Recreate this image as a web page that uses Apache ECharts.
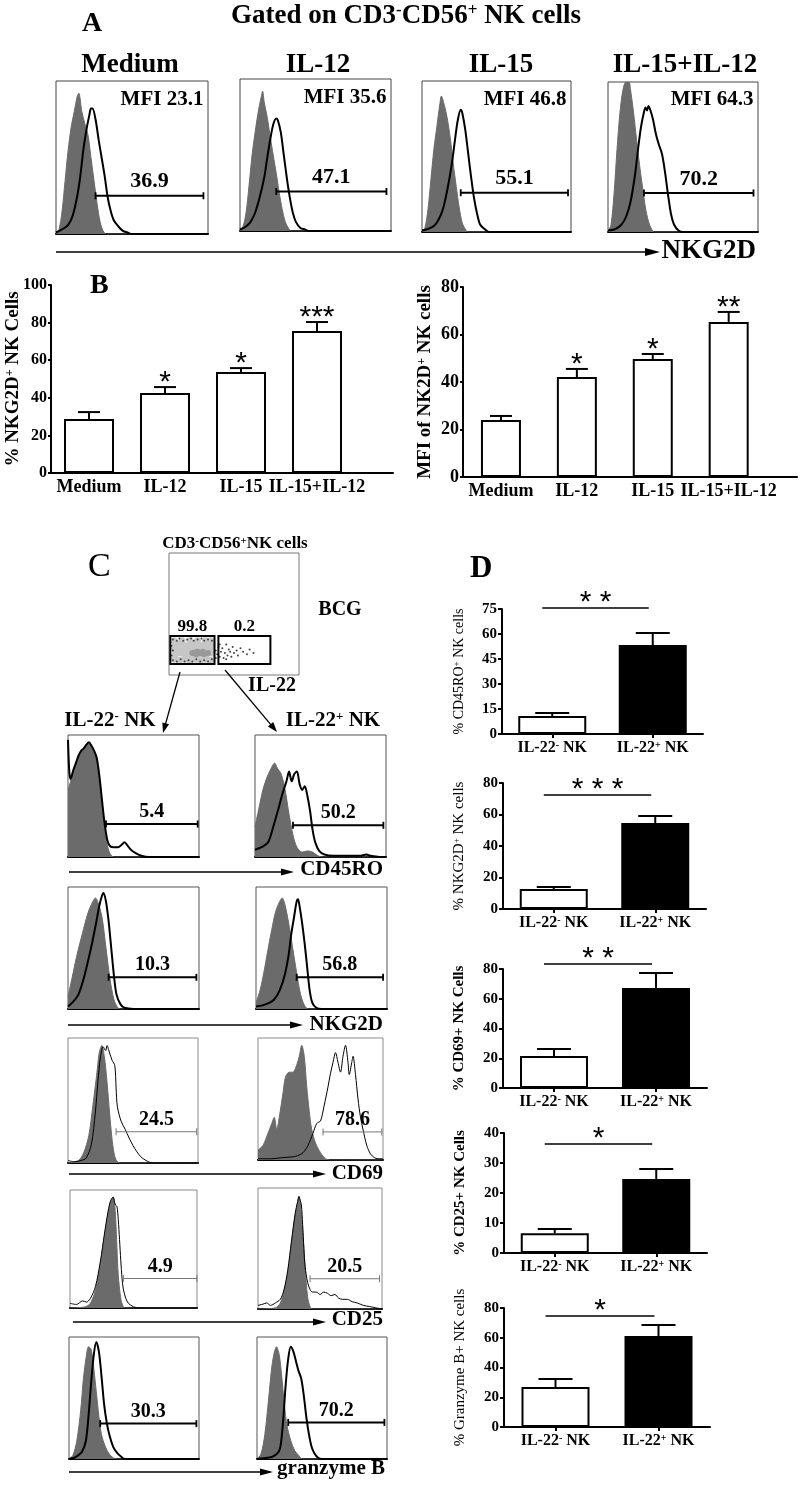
<!DOCTYPE html>
<html><head><meta charset="utf-8">
<script src="https://cdn.jsdelivr.net/npm/echarts@6/dist/echarts.min.js"></script>
<style>html,body{margin:0;padding:0;background:#fff}#c{width:800px;height:1485px}</style>
</head><body><div id="c"></div>
<script>
const SERIF = '"Liberation Serif","Times New Roman",serif';
const SANS = '"Liberation Sans",Arial,sans-serif';
const GRAY = '#6b6b6b';

// ---------------- Panel A data ----------------
const A_conditions = ['Medium', 'IL-12', 'IL-15', 'IL-15+IL-12'];
const A_mfi = ['MFI 23.1', 'MFI 35.6', 'MFI 46.8', 'MFI 64.3'];
const A_gatePct = ['36.9', '47.1', '55.1', '70.2'];
const A_gate = [[26, 97, 25], [24, 97, 26], [26, 98, 26], [24, 97, 26]];
const A_isotype = [
  [[0,0],[2,3],[4,15],[6,35],[8,55],[10,70],[12,80],[14,90],[15,92],[17,80],[19,72],[21,65],[23,50],[25,35],[27,20],[29,8],[31,2],[33,0],[100,0]],
  [[0,0],[2,3],[4,12],[6,30],[8,50],[10,65],[12,78],[14,88],[15,92],[16,85],[18,75],[20,62],[22,50],[24,38],[26,25],[28,14],[30,6],[32,2],[34,0],[100,0]],
  [[0,0],[2,3],[4,15],[6,35],[8,55],[10,70],[12,85],[13,90],[15,84],[17,75],[19,62],[21,45],[23,30],[25,16],[27,6],[29,2],[31,0],[100,0]],
  [[0,0],[2,5],[4,25],[6,55],[8,80],[10,95],[12,100],[14,100],[15,95],[17,80],[19,62],[21,45],[23,30],[25,16],[27,7],[29,2],[31,0],[100,0]]
];
const A_NKG2D = [
  [[0,1],[4,3],[8,6],[11,12],[14,25],[16,38],[18,55],[20,68],[22,78],[23,82],[24,82],[26,75],[28,62],[30,50],[32,38],[34,24],[36,15],[38,9],[41,5],[44,2],[47,1],[50,0],[100,0]],
  [[0,1],[4,3],[7,6],[10,12],[13,22],[16,35],[18,48],[20,60],[22,70],[24,74],[25,73],[27,65],[29,50],[31,35],[33,22],[35,12],[37,6],[40,2],[43,1],[46,0],[100,0]],
  [[0,1],[4,2],[8,4],[11,8],[14,15],[17,28],[20,45],[22,60],[24,74],[26,81],[27,79],[29,68],[31,52],[33,36],[35,22],[37,12],[39,5],[42,2],[45,0],[100,0]],
  [[0,1],[5,2],[9,5],[12,10],[15,20],[18,38],[20,55],[22,70],[24,80],[25,83],[26,81],[27,84],[28,82],[30,75],[32,65],[34,58],[36,52],[38,40],[40,25],[42,12],[44,5],[47,1],[50,0],[100,0]]
];

// ---------------- Panel B data ----------------
const B_categories = ['Medium', 'IL-12', 'IL-15', 'IL-15+IL-12'];
const B_pctNKG2D = [28.7, 42.6, 53.7, 75.5];
const B_pctNKG2D_err = [3.7, 3.1, 2.1, 4.8];
const B_pctNKG2D_sig = ['', '*', '*', '***'];
const B_mfiNKG2D = [24.0, 42.1, 49.7, 65.3];
const B_mfiNKG2D_err = [1.7, 3.4, 2.1, 4.2];
const B_mfiNKG2D_sig = ['', '*', '*', '**'];
const B_yNames = ['% NKG2D⁺ NK Cells', 'MFI of NK2D⁺ NK cells'];

// ---------------- Panel C data ----------------
const C_dotGates = [[1, 9, 35, 32], [38, 9, 78, 32]];
const C_dotGatePct = ['99.8', '0.2'];
const C_dotCloud = [[4,13],[8,12],[12,13],[16,12],[20,13],[24,12],[28,13],[32,12],
  [5,17],[9,18],[13,16],[17,17],[21,18],[25,16],[29,17],[33,18],
  [4,21],[8,22],[12,20],[16,21],[20,22],[24,21],[28,20],[32,22],
  [5,25],[9,26],[13,24],[17,25],[21,26],[25,24],[29,25],[33,26],
  [4,28],[10,28],[16,28],[22,28],[28,28],[32,28]];
const C_dotCore = [[18,18],[21,17],[24,18],[27,17],[30,18],[22,19],[26,19],[20,18.5]];
const C_dotEvents = [[3,29],[6,28],[8,30],[11,28],[14,29],[17,30],[19,28],[22,29],[25,30],[27,28],[30,29],[33,28],
  [3,12],[6,11],[9,13],[12,11],[15,12],[18,11],[21,13],[24,11],[27,12],[30,11],[33,13],[2,16],[3,20],[2,24],
  [36,20],[37,17],[38,23],[39,15],[40,19],[41,22],[42,14],[43,18],[44,25],[45,16],[46,21],[47,19],[48,15],
  [49,23],[50,18],[52,20],[53,16],[55,22],[57,19],[60,17],[62,21],[65,18],[39,25],[44,13],[36,14]];
const C_markers = ['CD45RO', 'NKG2D', 'CD69', 'CD25', 'granzyme B'];
const C_popNames = ['IL-22⁻ NK', 'IL-22⁺ NK'];
const C_gatePctNeg = ['5.4', '10.3', '24.5', '4.9', '30.3'];
const C_gatePctPos = ['50.2', '56.8', '78.6', '20.5', '70.2'];
const C_gateNeg = [[29, 99, 27], [31, 98, 26], [37, 99, 25], [42, 100, 25], [24, 98, 29]];
const C_gatePos = [[29, 98, 26], [31, 97, 26], [52, 99, 23], [42, 98, 25], [24, 98, 30]];
const C_isoNeg = [
  [[0,55],[2,62],[4,70],[6,76],[8,82],[10,86],[12,88],[14,91],[16,93],[18,90],[20,86],[22,80],[24,65],[26,45],[28,25],[30,10],[32,3],[35,0],[100,0]],
  [[0,10],[3,25],[7,45],[11,62],[15,78],[18,86],[21,91],[23,87],[26,75],[29,50],[32,25],[35,8],[38,1],[40,0],[100,0]],
  [[0,0],[8,2],[12,8],[16,22],[19,45],[22,70],[24,88],[26,94],[28,85],[30,65],[32,40],[34,18],[36,5],[38,1],[40,0],[100,0]],
  [[0,0],[12,1],[16,4],[20,15],[24,38],[27,60],[30,80],[32,90],[34,94],[35,90],[36,75],[37,50],[38,28],[40,8],[42,1],[44,0],[100,0]],
  [[0,0],[3,3],[6,15],[9,40],[11,65],[13,82],[15,92],[17,90],[19,75],[21,55],[23,35],[25,20],[28,10],[31,4],[34,1],[37,0],[100,0]]
];
const C_stainNeg = [
  [[0,96],[1,70],[2,64],[4,71],[6,77],[8,83],[10,87],[12,89],[14,92],[16,94],[18,91],[20,87],[22,81],[24,66],[26,46],[28,27],[30,14],[32,9],[35,8],[38,8],[41,10],[43,12],[45,10],[48,6],[52,3],[56,1],[62,0],[100,0]],
  [[0,2],[4,6],[8,12],[12,25],[15,38],[18,52],[21,68],[24,85],[26,93],[27,95],[29,88],[31,72],[33,50],[35,28],[37,12],[40,4],[43,1],[50,0],[100,0]],
  [[0,2],[5,1],[10,2],[14,4],[18,15],[21,40],[23,65],[25,85],[27,93],[29,90],[30,94],[32,88],[34,82],[36,78],[37,60],[38,45],[41,33],[44,27],[47,20],[50,14],[53,9],[56,5],[60,2],[65,0],[100,0]],
  [[0,4],[5,3],[10,6],[13,5],[16,8],[20,18],[24,40],[27,62],[30,82],[32,91],[34,94],[35,90],[36,87],[37,86],[38,75],[39,58],[40,40],[41,25],[42,16],[44,8],[46,4],[50,1],[55,0],[100,0]],
  [[0,0],[4,1],[7,3],[10,6],[13,15],[15,35],[17,62],[19,85],[21,96],[23,88],[25,68],[27,45],[29,30],[31,20],[34,10],[37,5],[40,2],[43,0],[100,0]]
];
const C_isoPos = [
  [[0,25],[3,40],[6,55],[9,65],[12,72],[15,77],[17,73],[20,68],[23,55],[26,35],[29,18],[32,8],[36,4],[40,5],[44,4],[48,1],[52,0],[100,0]],
  [[0,5],[3,15],[6,30],[9,48],[12,65],[15,80],[18,88],[20,91],[22,86],[25,70],[28,50],[31,30],[34,12],[37,3],[40,0],[100,0]],
  [[0,8],[4,12],[8,22],[11,30],[13,35],[15,25],[17,35],[20,55],[22,68],[25,72],[28,72],[31,78],[33,85],[35,94],[37,85],[39,60],[41,40],[43,25],[46,14],[50,6],[54,1],[58,0],[100,0]],
  [[0,0],[14,1],[18,5],[21,15],[24,30],[27,55],[30,78],[32,88],[33,93],[34,88],[36,65],[38,35],[40,10],[42,2],[44,0],[100,0]],
  [[0,0],[3,4],[6,20],[9,50],[11,72],[13,86],[15,92],[17,86],[19,68],[21,45],[23,28],[26,15],[29,7],[32,3],[35,0],[100,0]]
];
const C_stainPos = [
  [[0,6],[5,8],[10,12],[14,25],[18,40],[21,52],[24,62],[26,70],[28,62],[30,68],[32,70],[34,60],[36,55],[38,58],[40,50],[42,38],[44,22],[46,12],[49,5],[53,2],[60,1],[70,1],[80,1],[85,2],[88,1],[95,0],[100,0]],
  [[0,2],[5,3],[10,5],[14,8],[18,15],[22,28],[25,45],[27,62],[29,75],[31,88],[32,90],[33,86],[35,72],[37,55],[39,35],[41,15],[43,5],[46,1],[50,0],[100,0]],
  [[0,1],[10,1],[20,2],[30,3],[36,6],[40,12],[44,22],[47,30],[50,32],[53,45],[56,60],[58,71],[60,80],[62,88],[64,80],[66,72],[68,85],[70,94],[72,80],[73,70],[75,80],[76,85],[78,70],[80,50],[82,35],[84,25],[87,12],[90,5],[93,2],[96,1],[100,1]],
  [[0,3],[4,4],[7,5],[10,3],[14,5],[18,8],[21,16],[24,32],[27,56],[30,79],[32,89],[33,93],[34,90],[35,86],[36,70],[37,50],[38,35],[40,22],[42,16],[44,14],[47,14],[50,12],[53,14],[56,13],[59,11],[62,12],[65,9],[68,8],[72,8],[76,6],[80,5],[85,3],[90,2],[95,1],[100,0]],
  [[0,0],[8,1],[12,2],[16,5],[18,10],[20,30],[22,60],[24,82],[26,92],[28,88],[30,80],[32,72],[34,66],[36,52],[38,34],[40,20],[42,10],[44,5],[47,1],[50,0],[100,0]]
];

// ---------------- Panel D data ----------------
const D_categories = ['IL-22⁻ NK', 'IL-22⁺ NK'];
const D_yNames = ['% CD45RO⁺ NK cells', '% NKG2D⁺ NK cells', '% CD69+ NK Cells', '% CD25+ NK Cells', '% Granzyme B+ NK cells'];
const D_CD45RO = [10.8, 53.4], D_CD45RO_err = [1.8, 7.2];
const D_NKG2D = [12.7, 54.6], D_NKG2D_err = [1.3, 4.4];
const D_CD69 = [21.5, 67.2], D_CD69_err = [4.7, 10.1];
const D_CD25 = [6.6, 24.7], D_CD25_err = [1.4, 3.3];
const D_GzmB = [26.9, 61.2], D_GzmB_err = [5.4, 7.4];
const D_sig = ['* *', '* * *', '* *', '*', '*'];
const D_sigLevel = [75.6, 72.4, 83.4, 36.3, 74.6];
const D_yMax = [75, 80, 80, 40, 80];
const D_yStep = [15, 20, 20, 10, 20];

// ---------------- builders ----------------
const grids = [], xAxes = [], yAxes = [], series = [], graphics = [];
function addGrid(g, x, y) {
  const i = grids.length;
  grids.push(Object.assign({containLabel: false, outerBoundsMode: 'none'}, g));
  xAxes.push(Object.assign({gridIndex: i}, x));
  yAxes.push(Object.assign({gridIndex: i}, y));
  return i;
}
function supRich(s) { return s.replace(/⁺/g, '{sup|+}').replace(/⁻/g, '{sup|-}'); }
function supStyle(size, weight) {
  return {sup: {fontSize: Math.round(size * 0.62), fontFamily: SERIF, fontWeight: weight, verticalAlign: 'top', color: '#000', fill: '#000'}};
}
function txt(x, y, text, size, opt) {
  const weight = (opt && opt.fontWeight) || 'bold';
  graphics.push({type: 'text', x: x, y: y, silent: true, z: 10,
    style: Object.assign({text: supRich(text), fontSize: size, fontFamily: SERIF, fontWeight: weight, fill: '#000',
      align: 'center', verticalAlign: 'middle', rich: supStyle(size, weight)}, opt || {})});
}
function arrow(x1, y1, x2, y2, w, head, half) {
  const dx = x2 - x1, dy = y2 - y1, L = Math.hypot(dx, dy), ux = dx / L, uy = dy / L;
  const bx = x2 - ux * head, by = y2 - uy * head;
  graphics.push({type: 'line', silent: true, shape: {x1: x1, y1: y1, x2: bx + ux, y2: by + uy}, style: {stroke: '#000', lineWidth: w}});
  graphics.push({type: 'polygon', silent: true, shape: {points: [[x2, y2], [bx - uy * half, by + ux * half], [bx + uy * half, by - ux * half]]}, style: {fill: '#000'}});
}
function histX() { return {type: 'value', min: 0, max: 100, axisLine: {show: true, onZero: false, lineStyle: {color: '#000', width: 2}}, axisTick: {show: false}, axisLabel: {show: false}, splitLine: {show: false}}; }
function histY() { return {type: 'value', min: 0, max: 100, show: false}; }
function boxGrid(r, border) { return {left: r[0], top: r[1], width: r[2], height: r[3], show: true, borderColor: border, borderWidth: 1, backgroundColor: '#fff'}; }
function isoS(gi, data) { return {type: 'line', xAxisIndex: gi, yAxisIndex: gi, data: data, symbol: 'none', smooth: 0.3, lineStyle: {width: 1, color: GRAY}, areaStyle: {color: GRAY, opacity: 1}, silent: true, z: 2}; }
function stainS(gi, data, w) { return {type: 'line', xAxisIndex: gi, yAxisIndex: gi, data: data, symbol: 'none', smooth: 0.3, lineStyle: {width: w, color: '#000'}, silent: true, z: 3}; }
function gateS(gi, g, color, w) {
  return {type: 'line', xAxisIndex: gi, yAxisIndex: gi, data: [[g[0], g[2]], [g[1], g[2]]], symbol: 'rect', symbolSize: [w < 2 ? 1 : 1.8, 7], showSymbol: true,
    itemStyle: {color: color}, lineStyle: {color: color, width: w}, silent: true, z: 4};
}
function labelS(gi, pt, text, size, pos, dist) {
  return {type: 'scatter', xAxisIndex: gi, yAxisIndex: gi, data: [pt], symbol: 'circle', symbolSize: 0.01, silent: true, z: 5,
    itemStyle: {color: '#000', opacity: 1},
    label: {show: true, position: pos, distance: dist, formatter: text, color: '#000', opacity: 1, fontFamily: SERIF, fontWeight: 'bold', fontSize: size}};
}
function errS(gi, pts, cap, sigs, starSize, starOff) {
  return {type: 'custom', xAxisIndex: gi, yAxisIndex: gi, z: 6, silent: true, clip: false, data: pts,
    renderItem: function (params, api) {
      const x = api.value(0), v = api.value(1), e = api.value(2);
      const p0 = api.coord([x, v]), p1 = api.coord([x, v + e]);
      const st = {stroke: '#000', lineWidth: 2};
      const ch = [{type: 'line', shape: {x1: p0[0], y1: p0[1], x2: p1[0], y2: p1[1]}, style: st},
        {type: 'line', shape: {x1: p1[0] - cap, y1: p1[1], x2: p1[0] + cap, y2: p1[1]}, style: st}];
      const s = sigs ? sigs[params.dataIndex] : '';
      if (s) ch.push({type: 'text', style: {text: s, x: p1[0], y: p1[1] - starOff, align: 'center', verticalAlign: 'middle', fontSize: starSize, fontFamily: SANS, fill: '#000'}});
      return {type: 'group', children: ch};
    }};
}

// ---------------- Panel A ----------------
const A_boxes = [[56, 81, 152, 153], [240, 79, 151, 152], [422, 81, 149, 151], [608, 82, 150, 150]];
const A_labelX = [130, 318, 501, 685];
A_boxes.forEach(function (b, k) {
  const gi = addGrid(boxGrid(b, '#444'), histX(), histY());
  const g = A_gate[k];
  series.push(isoS(gi, A_isotype[k]), stainS(gi, A_NKG2D[k], 2), gateS(gi, g, '#000', 2),
    labelS(gi, [(g[0] + g[1]) / 2, g[2]], A_gatePct[k], 22, 'top', 3),
    labelS(gi, [97, 88], A_mfi[k], 21, 'left', 0));
  txt(A_labelX[k], 65, A_conditions[k], 27);
});
txt(82, 24, 'A', 28, {align: 'left'});
txt(406, 16, 'Gated on CD3⁻CD56⁺ NK cells', 27);
txt(756, 251, 'NKG2D', 27, {align: 'right'});
arrow(56, 252, 660, 252, 1.5, 15, 4);

// ---------------- Panel B ----------------
function bBarChart(rect, xMax, yMax, tickSize, name, vals, errs, sigs) {
  const gi = addGrid({left: rect[0], top: rect[1], width: rect[2], height: rect[3]},
    {type: 'value', min: 0, max: xMax, interval: 1, splitLine: {show: false}, axisTick: {show: false},
      axisLine: {show: true, onZero: false, lineStyle: {color: '#000', width: 2}},
      axisLabel: {margin: 5, color: '#000', fontFamily: SERIF, fontWeight: 'bold', fontSize: 18,
        formatter: function (v) { const r = Math.round(v); if (Math.abs(v - r) > 1e-6 || r % 2 === 0) return ''; return B_categories[(r - 1) / 2] || ''; }}},
    {type: 'value', min: 0, max: yMax, interval: 20, splitLine: {show: false},
      axisLine: {show: true, lineStyle: {color: '#000', width: 2}},
      axisTick: {show: true, length: 3, lineStyle: {color: '#000', width: 2}},
      axisLabel: {margin: 4, color: '#000', fontFamily: SERIF, fontWeight: 'bold', fontSize: tickSize},
      name: supRich(name), nameLocation: 'middle', nameGap: 28, nameMoveOverlap: false,
      nameTextStyle: {color: '#000', fontFamily: SERIF, fontWeight: 'bold', fontSize: 19, rich: supStyle(19, 'bold')}});
  series.push({type: 'bar', xAxisIndex: gi, yAxisIndex: gi, barWidth: rect[4], silent: true, z: 3,
    data: vals.map(function (v, i) { return [2 * i + 1, v]; }),
    itemStyle: {color: '#fff', borderColor: '#000', borderWidth: 2}});
  series.push(errS(gi, vals.map(function (v, i) { return [2 * i + 1, v, errs[i]]; }), 11, sigs, 30, 4));
}
bBarChart([51, 285, 342, 188, 50], 9, 100, 16, B_yNames[0], B_pctNKG2D, B_pctNKG2D_err, B_pctNKG2D_sig);
bBarChart([463, 287, 334, 190, 40], 8.8, 80, 18, B_yNames[1], B_mfiNKG2D, B_mfiNKG2D_err, B_mfiNKG2D_sig);
txt(90, 286, 'B', 28, {align: 'left'});

// ---------------- Panel C ----------------
(function () {
  const gi = addGrid(boxGrid([169, 553, 130, 122], '#777'),
    {type: 'value', min: 0, max: 100, show: false}, {type: 'value', min: 0, max: 100, show: false});
  series.push({type: 'scatter', xAxisIndex: gi, yAxisIndex: gi, data: C_dotCloud, symbolSize: 7, itemStyle: {color: '#c6c6c6', opacity: 1}, silent: true, z: 2});
  series.push({type: 'scatter', xAxisIndex: gi, yAxisIndex: gi, data: C_dotCore, symbolSize: 6, itemStyle: {color: '#999', opacity: 1}, silent: true, z: 3});
  series.push({type: 'scatter', xAxisIndex: gi, yAxisIndex: gi, data: C_dotEvents, symbolSize: 2, itemStyle: {color: '#444', opacity: 1}, silent: true, z: 4});
  series.push({type: 'custom', xAxisIndex: gi, yAxisIndex: gi, z: 5, silent: true, data: C_dotGates,
    renderItem: function (params, api) {
      const a = api.coord([api.value(0), api.value(3)]), b = api.coord([api.value(2), api.value(1)]);
      return {type: 'rect', shape: {x: a[0], y: a[1], width: b[0] - a[0], height: b[1] - a[1]}, style: {fill: 'none', stroke: '#000', lineWidth: 2}};
    }});
  C_dotGates.forEach(function (g, k) {
    series.push(labelS(gi, [(g[0] + g[2]) / 2, g[3]], C_dotGatePct[k], 17, 'top', 1));
  });
})();
txt(88, 567, 'C', 34, {align: 'left', fontWeight: 'normal'});
txt(235, 544, 'CD3⁻CD56⁺NK cells', 17);
txt(340, 610, 'BCG', 20);
txt(272, 686, 'IL-22', 20);
txt(110, 721, C_popNames[0], 21);
txt(333, 721, C_popNames[1], 21);
arrow(180, 672, 163, 733, 1.3, 10, 3.5);
arrow(225, 670, 277, 732, 1.3, 10, 3.5);

const C_boxNeg = [[68, 735, 131, 122], [68, 887, 131, 122], [68, 1038, 130, 125], [70, 1190, 127, 118], [69, 1337, 130, 122]];
const C_boxPos = [[255, 735, 131, 122], [256, 887, 131, 122], [258, 1038, 125, 122], [258, 1188, 124, 121], [257, 1337, 130, 122]];
const C_axisY = [872, 1025, 1174, 1322, 1472];
const C_axisX = [[69, 294], [68, 303], [69, 326], [73, 326], [69, 273]];
const C_textY = [870, 1025, 1174, 1320, 1469];
C_markers.forEach(function (m, k) {
  const thin = (k === 2 || k === 3);
  const border = thin ? '#8a8a8a' : '#555';
  const gN = addGrid(boxGrid(C_boxNeg[k], border), histX(), histY());
  const gP = addGrid(boxGrid(C_boxPos[k], border), histX(), histY());
  const gc = thin ? '#777' : '#000', gw = thin ? 1 : 2, lw = thin ? 1 : 2;
  const gn = C_gateNeg[k], gp = C_gatePos[k];
  series.push(isoS(gN, C_isoNeg[k]), stainS(gN, C_stainNeg[k], lw), gateS(gN, gn, gc, gw),
    labelS(gN, [(gn[0] + gn[1]) / 2, gn[2]], C_gatePctNeg[k], 20, 'top', 2));
  series.push(isoS(gP, C_isoPos[k]), stainS(gP, C_stainPos[k], lw), gateS(gP, gp, gc, gw),
    labelS(gP, [(gp[0] + gp[1]) / 2, gp[2]], C_gatePctPos[k], 20, 'top', 2));
  txt(k === 4 ? 385 : 383, C_textY[k], m, 21, {align: 'right'});
  arrow(C_axisX[k][0], C_axisY[k], C_axisX[k][1], C_axisY[k], 1.5, 13, 3.5);
});

// ---------------- Panel D ----------------
const D_vals = [D_CD45RO, D_NKG2D, D_CD69, D_CD25, D_GzmB];
const D_errs = [D_CD45RO_err, D_NKG2D_err, D_CD69_err, D_CD25_err, D_GzmB_err];
const D_rects = [[502, 609, 201, 125], [503, 783, 203, 126], [503, 969, 204, 119], [504, 1133, 203, 120], [504, 1308, 206, 119]];
const D_nameFont = [[14, 'normal'], [15, 'normal'], [15, 'bold'], [15, 'bold'], [15, 'normal']];
D_vals.forEach(function (vals, k) {
  const r = D_rects[k], nf = D_nameFont[k];
  const gi = addGrid({left: r[0], top: r[1], width: r[2], height: r[3]},
    {type: 'category', data: D_categories, boundaryGap: true,
      axisLine: {show: true, onZero: false, lineStyle: {color: '#000', width: 2}},
      axisTick: {show: true, alignWithLabel: true, length: 4, lineStyle: {color: '#000', width: 2}},
      axisLabel: {margin: 6, color: '#000', fontFamily: SERIF, fontWeight: 'bold', fontSize: 16, interval: 0,
        formatter: function (v) { return supRich(v); }, rich: supStyle(16, 'bold')}},
    {type: 'value', min: 0, max: D_yMax[k], interval: D_yStep[k], splitLine: {show: false},
      axisLine: {show: true, lineStyle: {color: '#000', width: 2}},
      axisTick: {show: true, length: 4, lineStyle: {color: '#000', width: 2}},
      axisLabel: {margin: 5, color: '#000', fontFamily: SERIF, fontWeight: 'bold', fontSize: 15},
      name: supRich(D_yNames[k]), nameLocation: 'middle', nameGap: 36, nameMoveOverlap: false,
      nameTextStyle: {color: '#000', fontFamily: SERIF, fontWeight: nf[1], fontSize: nf[0], rich: supStyle(nf[0], nf[1])}});
  series.push({type: 'bar', xAxisIndex: gi, yAxisIndex: gi, barWidth: 68, silent: true, z: 3,
    data: [{value: vals[0], itemStyle: {color: '#fff'}}, {value: vals[1], itemStyle: {color: '#000'}}],
    itemStyle: {borderColor: '#000', borderWidth: 2}});
  series.push(errS(gi, vals.map(function (v, i) { return [i, v, D_errs[k][i]]; }), 17, null, 0, 0));
  series.push({type: 'custom', xAxisIndex: gi, yAxisIndex: gi, z: 6, silent: true, clip: false,
    data: [[0, D_sigLevel[k]]],
    renderItem: function (params, api) {
      const lv = api.value(1);
      const a = api.coord([0, lv]), b = api.coord([1, lv]);
      const x1 = a[0] - 10, x2 = b[0] - 4;
      return {type: 'group', children: [
        {type: 'line', shape: {x1: x1, y1: a[1], x2: x2, y2: a[1]}, style: {stroke: '#000', lineWidth: 1.5}},
        {type: 'text', style: {text: D_sig[k], x: (x1 + x2) / 2, y: a[1] - 5, align: 'center', verticalAlign: 'middle', fontSize: 30, fontFamily: SANS, fill: '#000'}}
      ]};
    }});
});
txt(470, 569, 'D', 31, {align: 'left'});

const chart = echarts.init(document.getElementById('c'), null, {renderer: 'canvas'});
chart.setOption({
  animation: false,
  backgroundColor: '#fff',
  textStyle: {fontFamily: SERIF},
  grid: grids, xAxis: xAxes, yAxis: yAxes, series: series,
  graphic: {elements: graphics}
});
</script></body></html>
